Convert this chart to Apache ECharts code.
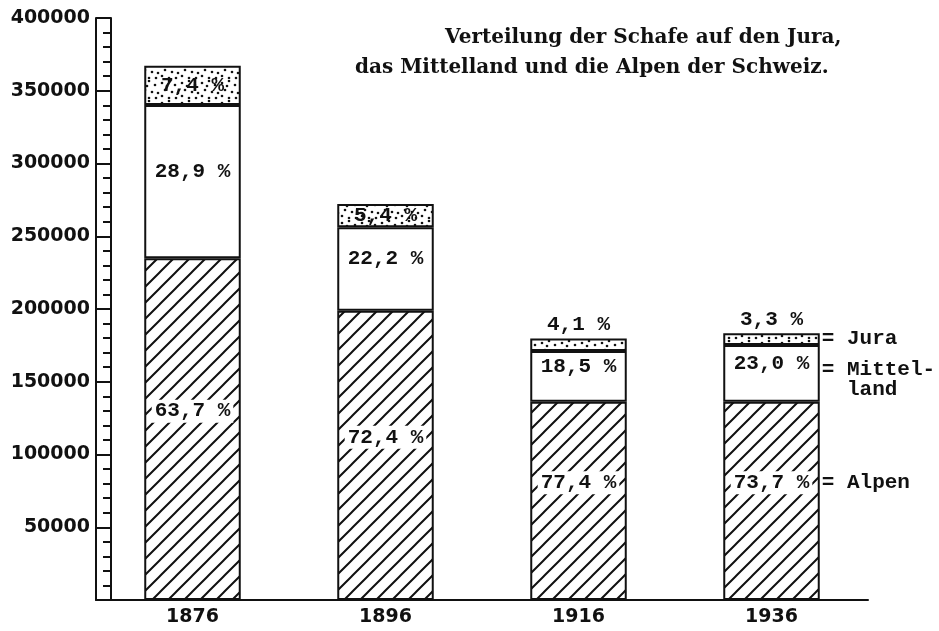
<!DOCTYPE html>
<html>
<head>
<meta charset="utf-8">
<title>Verteilung der Schafe</title>
<script src="https://cdn.jsdelivr.net/npm/echarts@6/dist/echarts.min.js"></script>
<style>
  html, body { margin: 0; background: #fff; }
  #chart { width: 939px; height: 631px; }
</style>
</head>
<body>
<div id="chart"></div>
<script>
// Zählungsjahre
const years = ["1876", "1896", "1916", "1936"];

// Schafe je Region
const alpen = [234800, 198800, 136300, 136300];
const mittelland = [105400, 57400, 34800, 39000];
const jura = [27000, 16000, 8700, 8000];

// Prozentangaben wie im Original
const alpenPct = ["63,7 %", "72,4 %", "77,4 %", "73,7 %"];
const mittellandPct = ["28,9 %", "22,2 %", "18,5 %", "23,0 %"];
const juraPct = ["7,4 %", "5,4 %", "4,1 %", "3,3 %"];

// y-Achse
const yMax = 400000;
const yStep = 50000;

const mono = "Liberation Mono";

// Schraffur fuer die Alpen
function hatch() {
  const s = 16;
  const c = document.createElement("canvas");
  c.width = s;
  c.height = s;
  const g = c.getContext("2d");
  g.fillStyle = "#fff";
  g.fillRect(0, 0, s, s);
  g.strokeStyle = "#111";
  g.lineWidth = 2;
  g.beginPath();
  g.moveTo(-2, s + 2);
  g.lineTo(s + 2, -2);
  g.moveTo(-2, 2);
  g.lineTo(2, -2);
  g.moveTo(s - 2, s + 2);
  g.lineTo(s + 2, s - 2);
  g.stroke();
  return c;
}

// Punkte fuer den Jura
function dots() {
  const s = 20;
  const c = document.createElement("canvas");
  c.width = s;
  c.height = s;
  const g = c.getContext("2d");
  g.fillStyle = "#fff";
  g.fillRect(0, 0, s, s);
  g.fillStyle = "#111";
  [[2, 3], [9, 1], [15, 5], [5, 10], [12, 12], [18, 13], [2, 16], [9, 18], [16, 18], [7, 6]].forEach(function (p) {
    g.beginPath();
    g.arc(p[0], p[1], 1.3, 0, Math.PI * 2);
    g.fill();
  });
  return c;
}

const chart = echarts.init(document.getElementById("chart"));

const barBase = {
  type: "bar",
  stack: "schafe",
  barWidth: "50%",
  silent: true,
  emphasis: { disabled: true },
  itemStyle: { borderColor: "#111", borderWidth: 2 },
};

const labelFont = {
  fontFamily: mono,
  fontWeight: "bold",
  fontSize: 21,
  color: "#111",
};

const titleFont = { fontFamily: "DejaVu Serif", fontWeight: "bold", fontSize: 20, color: "#111" };
const axisFont = { color: "#111", fontFamily: "DejaVu Sans", fontWeight: "bold", fontSize: 19 };

chart.setOption({
  animation: false,
  backgroundColor: "#fff",
  title: [
    { text: "Verteilung der Schafe auf den Jura,", left: 445, top: 28, padding: 0, textStyle: titleFont },
    { text: "das Mittelland und die Alpen der Schweiz.", left: 355, top: 58, padding: 0, textStyle: titleFont },
  ],
  grid: { left: 96, right: 71, top: 18, bottom: 31 },
  xAxis: {
    type: "category",
    data: years,
    axisLine: { lineStyle: { color: "#111", width: 2 } },
    axisTick: { show: false },
    axisLabel: Object.assign({ margin: 8 }, axisFont),
  },
  yAxis: [
    {
      type: "value",
      position: "left",
      min: 0,
      max: yMax,
      interval: yStep,
      axisLine: { show: true, lineStyle: { color: "#111", width: 2 } },
      axisTick: { show: true, inside: true, length: 15, lineStyle: { color: "#111", width: 2 } },
      splitLine: { show: false },
      axisLabel: Object.assign({
        margin: 6,
        formatter: function (v) { return v === 0 ? "" : String(v); },
      }, axisFont),
    },
    {
      type: "value",
      position: "left",
      min: 0,
      max: yMax,
      interval: yStep,
      offset: -15,
      axisLine: { show: true, lineStyle: { color: "#111", width: 2 } },
      axisTick: { show: false, inside: false },
      minorTick: { show: true, splitNumber: 5, length: 8, lineStyle: { color: "#111", width: 2 } },
      splitLine: { show: false },
      axisLabel: { show: false },
    },
  ],
  series: [
    Object.assign({}, barBase, {
      name: "Alpen",
      data: alpen,
      itemStyle: Object.assign({}, barBase.itemStyle, { color: { image: hatch(), repeat: "repeat" } }),
      label: Object.assign({
        show: true,
        position: "inside",
        offset: [0, -18],
        backgroundColor: "#fff",
        padding: [1, 3],
        formatter: function (p) { return alpenPct[p.dataIndex]; },
      }, labelFont),
    }),
    Object.assign({}, barBase, {
      name: "Mittelland",
      data: mittelland,
      itemStyle: Object.assign({}, barBase.itemStyle, { color: "#fff" }),
      label: Object.assign({
        show: true,
        position: "inside",
        offset: [0, -10],
        formatter: function (p) { return mittellandPct[p.dataIndex]; },
      }, labelFont),
    }),
    Object.assign({}, barBase, {
      name: "Jura",
      data: jura.map(function (v) {
        return { value: v, label: { position: v < 10000 ? "top" : "inside" } };
      }),
      itemStyle: Object.assign({}, barBase.itemStyle, { color: { image: dots(), repeat: "repeat" } }),
      label: Object.assign({
        show: true,
        distance: 3,
        formatter: function (p) { return juraPct[p.dataIndex]; },
      }, labelFont),
    }),
  ],
});

// Legende rechts neben dem letzten Balken
function placeLegend() {
  const last = years.length - 1;
  const at = function (v) { return chart.convertToPixel({ gridIndex: 0 }, [last, v]); };
  const band = chart.convertToPixel({ gridIndex: 0 }, [1, 0])[0] - chart.convertToPixel({ gridIndex: 0 }, [0, 0])[0];
  const x = at(0)[0] + band * 0.25 + 2;
  const a = alpen[last], m = mittelland[last], j = jura[last];
  const items = [
    { text: "= Jura", y: at(a + m + j / 2)[1] },
    { text: "= Mittel-\n  land", y: at(a + m / 2)[1] + 6 },
    { text: "= Alpen", y: at(a / 2)[1] - 18 },
  ];
  chart.setOption({
    graphic: items.map(function (it) {
      return {
        type: "text",
        x: x,
        y: it.y,
        silent: true,
        style: {
          text: it.text,
          font: "bold 21px " + mono,
          fill: "#111",
          verticalAlign: "middle",
          lineHeight: 20,
        },
      };
    }),
  });
}
placeLegend();
</script>
</body>
</html>
